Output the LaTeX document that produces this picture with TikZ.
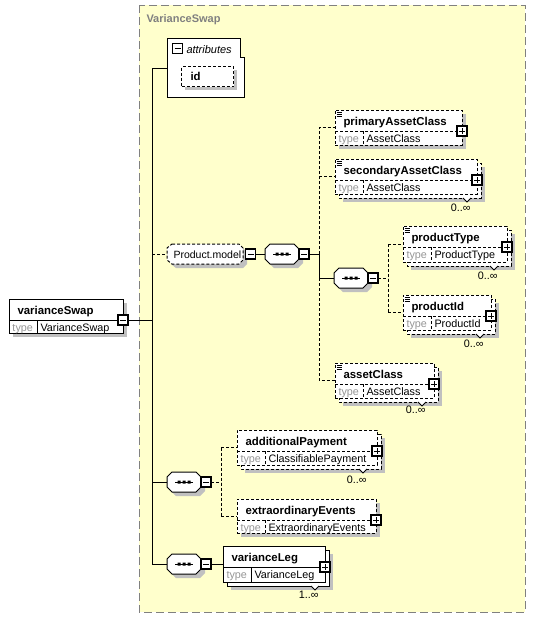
\documentclass[tikz,border=0pt]{standalone}
\usepackage{fontspec}
\setmainfont{Liberation Sans}
\usetikzlibrary{calc}
\definecolor{bgy}{RGB}{255,255,204}
\definecolor{shc}{RGB}{192,192,192}
\definecolor{grt}{RGB}{128,128,128}
\definecolor{typc}{RGB}{150,150,150}
\tikzset{
  namelbl/.style={inner sep=0pt, font=\fontsize{11.4}{13}\selectfont\bfseries},
  typelbl/.style={inner sep=0pt, text=typc, font=\fontsize{10.8}{12}\selectfont},
  typename/.style={inner sep=0pt, font=\fontsize{10.8}{12}\selectfont},
  multlbl/.style={inner sep=0pt, font=\fontsize{10.8}{12}\selectfont},
  edash/.style={dash pattern=on 3pt off 2pt},
  cdash/.style={dash pattern=on 3pt off 2pt},
  solidb/.style={solid},
  pmbox/.style={draw, fill=white, line width=1.2pt, minimum size=10pt, inner sep=0pt, outer sep=0pt},
  plusbox/.style={pmbox, path picture={\draw[line width=0.9pt] ($(path picture bounding box.center)+(-3,0)$) -- ++(6,0) ($(path picture bounding box.center)+(0,-3)$) -- ++(0,6);}},
  minusbox/.style={pmbox, path picture={\draw[line width=0.9pt] ($(path picture bounding box.center)+(-3,0)$) -- ++(6,0);}},
}
% shadow for a single box
\newcommand\shd[4]{\fill[shc] (#1+4,#2+4) rectangle ++(#3,#4);}
% back box (multiple occurrence) with its shadow
\newcommand\back[5]{\fill[shc] (#1+8,#2+8) rectangle ++(#3,#4);
  \draw[#5,fill=white] (#1+4,#2+4) rectangle ++(#3,#4);}
% notch under multi box
\newcommand\notch[2]{\draw[fill=white,line width=0.8pt] (#1-4,#2) -- (#1,#2+4) -- (#1+4,#2);}
% documentation icon
\newcommand\docicon[2]{\draw[line width=0.6pt] (#1+1.5,#2+2) -- ++(5,0) (#1+1.5,#2+4) -- ++(5,0) (#1+1.5,#2+6) -- ++(5,0);}
% element: name x y w h style label type pmstyle
\newcommand\elem[9]{%
  \node[draw,#6,fill=white,anchor=north west,minimum width=#4pt,minimum height=#5pt,inner sep=0pt,outer sep=0pt] (#1) at (#2,#3) {};
  \draw[#6] ($(#1.north west)+(0,21)$) -- ($(#1.north east)+(0,21)$);
  \draw[#6] ($(#1.north west)+(28,21)$) -- ($(#1.south west)+(28,0)$);
  \node[namelbl,anchor=base west] (#1-l) at ($(#1.north west)+(8,15)$) {#7};
  \node[typelbl,anchor=base west] (#1-k) at ($(#1.north west)+(3,32)$) {type};
  \node[typename,anchor=base west] (#1-t) at ($(#1.north west)+(31,32)$) {#8};
  \node[#9] (#1-p) at ($(#1.north east)+(0,21)$) {};
}
% sequence compositor: name x y
\newcommand\seqsym[3]{%
  \fill[shc] (#2+9,#3+4) -- (#2+33,#3+4) -- (#2+38,#3+9) -- (#2+38,#3+19) -- (#2+33,#3+24) -- (#2+9,#3+24) -- (#2+4,#3+19) -- (#2+4,#3+9) -- cycle;
  \draw[fill=white] (#2+5,#3) -- (#2+29,#3) -- (#2+34,#3+5) -- (#2+34,#3+15) -- (#2+29,#3+20) -- (#2+5,#3+20) -- (#2,#3+15) -- (#2,#3+5) -- cycle;
  \draw (#2+8,#3+10) -- (#2+26,#3+10);
  \fill (#2+10.5,#3+8.5) rectangle ++(3,3) (#2+15.5,#3+8.5) rectangle ++(3,3) (#2+20.5,#3+8.5) rectangle ++(3,3);
  \coordinate (#1) at (#2,#3+10);
  \node[minusbox] (#1-m) at (#2+39,#3+10) {};
}
\begin{document}
\begin{tikzpicture}[x=1pt,y=-1pt,line width=1pt]
\useasboundingbox (0,0) rectangle (536,619);
% background group box
\draw[grt,fill=bgy,dash pattern=on 8pt off 4pt] (139,5) rectangle (525,612);
\node[inner sep=0pt,anchor=base west,text=grt,font=\fontsize{11}{13}\selectfont\bfseries] (title) at (146,22) {VarianceSwap};

% attributes
\draw[fill=white] (167,38) -- (240,38) -- (240,57) -- (244,57) -- (244,97) -- (167,97) -- cycle;
\node[minusbox] (attr-m) at (177.5,48.5) {};
\node[inner sep=0pt,anchor=base west,font=\fontsize{11}{13}\selectfont\itshape] (attr-l) at (186,53) {attributes};
\coordinate (attrw) at (167,68);
\shd{181}{66}{52}{20}
\node[draw,edash,fill=white,anchor=north west,minimum width=52pt,minimum height=20pt,inner sep=0pt] (id) at (181,66) {};
\node[namelbl,anchor=base west] (id-l) at (190,80) {id};

% root element
\shd{9}{299}{114}{34}
\elem{vs}{9}{299}{114}{34}{solidb}{varianceSwap}{VarianceSwap}{minusbox}

% Product.model group
\fill[shc] (176,248) -- (243,248) -- (247,252) -- (247,264) -- (243,268) -- (176,268) -- (171,264) -- (171,252) -- cycle;
\draw[edash,fill=white] (172,244) -- (239,244) -- (243,248) -- (243,260) -- (239,264) -- (172,264) -- (167,260) -- (167,248) -- cycle;
\node[inner sep=0pt,anchor=base west,font=\fontsize{10.5}{12}\selectfont] (pm-l) at (173,258) {Product.model};
\coordinate (pm) at (167,254);
\node[minusbox] (pm-m) at (250.5,254) {};

\seqsym{s1}{265}{244}
\seqsym{s4}{334}{268}
\seqsym{s2}{167}{472}
\seqsym{s3}{167}{554}

% children of Product.model sequence
\shd{335}{110}{127}{35}
\elem{pac}{335}{110}{127}{35}{edash}{primaryAssetClass}{AssetClass}{plusbox}
\docicon{335}{110}

\back{335}{159}{142}{35}{edash}
\notch{467}{198}
\elem{sac}{335}{159}{142}{35}{edash}{secondaryAssetClass}{AssetClass}{plusbox}
\docicon{335}{159}
\node[multlbl,anchor=base east] (sac-n) at (471,211) {0..∞};

\back{403}{226}{104}{36}{edash}
\notch{494}{266}
\elem{pt}{403}{226}{104}{36}{edash}{productType}{ProductType}{plusbox}
\docicon{403}{226}
\node[multlbl,anchor=base east] (pt-n) at (498,279) {0..∞};

\back{403}{295}{88}{35}{edash}
\notch{480}{334}
\elem{pid}{403}{295}{88}{35}{edash}{productId}{ProductId}{plusbox}
\docicon{403}{295}
\node[multlbl,anchor=base east] (pid-n) at (484,347) {0..∞};

\back{335}{363}{99}{35}{edash}
\notch{422}{402}
\elem{ac}{335}{363}{99}{35}{edash}{assetClass}{AssetClass}{plusbox}
\docicon{335}{363}
\node[multlbl,anchor=base east] (ac-n) at (426,413) {0..∞};

% second sequence children
\back{237}{430}{140}{35}{edash}
\notch{363}{469}
\elem{ap}{237}{430}{140}{35}{edash}{additionalPayment}{ClassifiablePayment}{plusbox}
\node[multlbl,anchor=base east] (ap-n) at (367,483) {0..∞};

\shd{237}{499}{139}{34}
\elem{ee}{237}{499}{139}{34}{edash}{extraordinaryEvents}{ExtraordinaryEvents}{plusbox}

% third sequence child
\back{223}{546}{102}{36}{solidb}
\notch{315}{586}
\elem{vl}{223}{546}{102}{36}{solidb}{varianceLeg}{VarianceLeg}{plusbox}
\node[multlbl,anchor=base east] (vl-n) at (319,598) {1..∞};

% connectors: main bus
\coordinate (b0) at (152,68);
\coordinate (b3) at (152,564);
\draw (b0) -- (b3);
\draw (b0) -- (attrw);
\draw (vs-p.east) -- (vs-p.east -| b0);
\draw[cdash] (b0 |- pm) -- (pm);
\draw (b0 |- s2) -- (s2);
\draw (b3) -- (s3);

% Product.model sequence
\draw (pm-m.east) -- (s1);
\coordinate (j1) at (319,254);
\draw (s1-m.east) -- (j1);
\draw[cdash] (j1) -- (j1 |- pac.west) -- (pac.west);
\draw[cdash] (j1 |- sac.west) -- (sac.west);
\draw (j1) -- (j1 |- s4) -- (s4);
\draw[cdash] (j1 |- s4) -- (j1 |- ac.west) -- (ac.west);

% inner sequence
\coordinate (j2) at (388,278);
\draw[cdash] (s4-m.east) -- (j2);
\draw[cdash] (j2 |- pt.west) -- (j2 |- pid.west);
\draw[cdash] (j2 |- pt.west) -- (pt.west);
\draw[cdash] (j2 |- pid.west) -- (pid.west);

% second sequence
\coordinate (j3) at (221,482);
\draw[cdash] (s2-m.east) -- (j3);
\draw[cdash] (j3 |- ap.west) -- (j3 |- ee.west);
\draw[cdash] (j3 |- ap.west) -- (ap.west);
\draw[cdash] (j3 |- ee.west) -- (ee.west);

% third sequence
\draw (s3-m.east) -- (vl.west);
\end{tikzpicture}
\end{document}
